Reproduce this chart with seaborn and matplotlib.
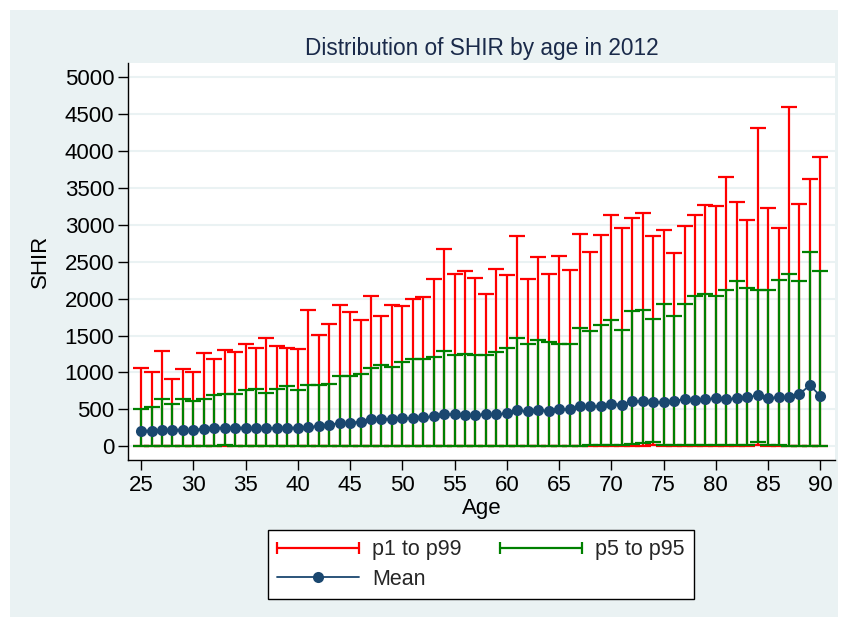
import numpy as np
import matplotlib
matplotlib.use("Agg")
import matplotlib.pyplot as plt
import seaborn as sns
from matplotlib.lines import Line2D
from matplotlib.patches import Rectangle
from matplotlib.legend_handler import HandlerLine2D

##### DADOS ######################################################################
ages = list(range(25, 91))
p99 = [1064, 1009, 1291, 918, 1045, 1000, 1264, 1182, 1309, 1282,
       1382, 1336, 1464, 1364, 1336, 1318, 1850, 1505, 1660, 1920,
       1820, 1712, 2030, 1765, 1910, 1900, 2000, 2020, 2262, 2678,
       2340, 2378, 2280, 2062, 2405, 2315, 2845, 2262, 2566, 2330,
       2575, 2385, 2872, 2636, 2862, 3132, 2952, 3088, 3160, 2854,
       2925, 2618, 2980, 3132, 3268, 3250, 3646, 3312, 3060, 4315,
       3222, 2952, 4595, 3277, 3620, 3917]
p95 = [500, 536, 645, 573, 636, 609, 645, 691, 709, 709,
       764, 773, 727, 773, 818, 764, 827, 827, 845, 955,
       955, 973, 1064, 1095, 1078, 1140, 1185, 1176, 1203, 1292,
       1238, 1246, 1238, 1238, 1275, 1328, 1473, 1383, 1445, 1410,
       1392, 1392, 1600, 1555, 1645, 1716, 1572, 1833, 1852, 1725,
       1932, 1762, 1932, 2032, 2068, 2040, 2122, 2238, 2150, 2122,
       2122, 2258, 2330, 2238, 2636, 2375]
p5 = [5, 5, 5, 5, 5, 5, 5, 10, 15, 10,
      5, 5, 5, 5, 5, 5, 5, 5, 5, 5,
      5, 5, 5, 5, 5, 5, 5, 5, 5, 5,
      5, 5, 5, 5, 5, 10, 10, 5, 10, 10,
      10, 10, 10, 15, 15, 15, 15, 35, 40, 55,
      15, 15, 20, 20, 15, 20, 15, 15, 15, 60,
      20, 15, 10, 10, 5, 5]
p1 = [0] * 49 + [12] + [0] * 9 + [15] + [0] * 6
mean = [214, 214, 227, 227, 227, 223, 241, 250, 255, 255,
        255, 250, 245, 255, 255, 255, 264, 273, 291, 318,
        318, 336, 364, 373, 373, 377, 386, 395, 405, 432,
        432, 427, 427, 436, 436, 445, 491, 473, 491, 482,
        500, 500, 545, 540, 545, 577, 564, 618, 609, 600,
        600, 618, 636, 627, 636, 654, 636, 654, 664, 691,
        654, 664, 673, 709, 827, 682]

##### CORES ######################################################################
fundo = "#EAF2F3"
vermelho = "#FF0000"
verde = "#008000"
marinho = "#1A476F"

sns.set_theme(style="white")
plt.rcParams["font.family"] = ["Liberation Sans", "DejaVu Sans"]

fig = plt.figure(figsize=(8.45, 6.21), dpi=100, facecolor="white")
fig.patches.append(Rectangle((10 / 845, 4 / 621), 828 / 845, 607 / 621,
                             transform=fig.transFigure, facecolor=fundo,
                             edgecolor="none", zorder=-10))
ax = fig.add_axes([128 / 845, 1 - 460 / 621, (835 - 128) / 845, (460 - 63) / 621])
ax.set_facecolor("white")

a = np.array(ages)
lo1, hi99 = np.array(p1), np.array(p99)
lo5, hi95 = np.array(p5), np.array(p95)
ax.errorbar(a, hi99, yerr=[hi99 - lo1, np.zeros_like(hi99)], fmt="none",
            ecolor=vermelho, elinewidth=1.6, capsize=5.5, capthick=1.6, zorder=2)
ax.errorbar(a, hi95, yerr=[hi95 - lo5, np.zeros_like(hi95)], fmt="none",
            ecolor=verde, elinewidth=1.6, capsize=5.5, capthick=1.6, zorder=3)
sns.lineplot(x=ages, y=mean, ax=ax, color=marinho, marker="o", markersize=8,
             markeredgewidth=0, linewidth=1.3, zorder=4, legend=False)

ax.set_xlim(23.75, 91.4)
ax.set_ylim(-185, 5190)
ax.set_yticks(range(0, 5001, 500))
ax.set_xticks(range(25, 91, 5))
ax.grid(axis="y", color=fundo, linewidth=1.5, zorder=0)
ax.set_axisbelow(True)
for s in ["top", "right"]:
    ax.spines[s].set_visible(False)
for s in ["left", "bottom"]:
    ax.spines[s].set_color("black")
    ax.spines[s].set_linewidth(1.0)
ax.tick_params(axis="both", which="both", direction="out", length=7, width=1,
               color="black", labelsize=16, labelcolor="black", left=True, bottom=True)
ax.tick_params(axis="y", pad=3)
ax.tick_params(axis="x", pad=4)
ax.set_ylabel("SHIR", fontsize=16, color="black", labelpad=10)
ax.set_xlabel("Age", fontsize=16, color="black", labelpad=1)
ax.set_title("Distribution of SHIR by age in 2012", fontsize=16.3,
             color="#1A2A4A", pad=5.5)

h1 = Line2D([0, 1], [0, 0], color=vermelho, linewidth=1.6, marker="|",
            markersize=9, markeredgewidth=1.6)
h2 = Line2D([0, 1], [0, 0], color=verde, linewidth=1.6, marker="|",
            markersize=9, markeredgewidth=1.6)
h3 = Line2D([0, 1], [0, 0], color=marinho, linewidth=1.3, marker="o",
            markersize=8, markeredgewidth=0)
leg = fig.legend([h1, h3, h2], ["p1 to p99", "Mean", "p5 to p95"], ncol=2,
                 loc="center", bbox_to_anchor=(481 / 845, 1 - 564.5 / 621),
                 fontsize=15.5, frameon=True, fancybox=False, edgecolor="black",
                 framealpha=1, handlelength=3.8, handletextpad=0.6,
                 columnspacing=1.8, borderpad=0.45, labelspacing=0.4,
                 handler_map={h1: HandlerLine2D(numpoints=2, marker_pad=0.0),
                              h2: HandlerLine2D(numpoints=2, marker_pad=0.0),
                              h3: HandlerLine2D(numpoints=1)})
leg.get_frame().set_linewidth(1.0)
leg.get_frame().set_facecolor("white")

fig.savefig("out.png", dpi=100, facecolor="white")
